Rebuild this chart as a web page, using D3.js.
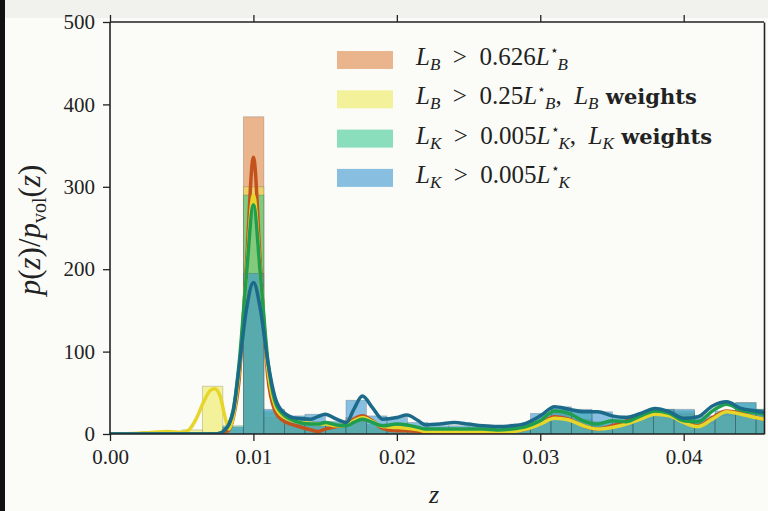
<!DOCTYPE html>
<html>
<head>
<meta charset="utf-8">
<script src="https://cdn.jsdelivr.net/npm/d3@7"></script>
<style>
  body { margin: 0; background: #fbfcf8; }
  svg text { font-family: "Liberation Serif", "DejaVu Serif", serif; fill: #222; }
</style>
</head>
<body>
<div id="chart"></div>
<script>
var width = 768, height = 511;
var margin = { left: 110, right: 4, top: 22, bottom: 77 };

// histogram bins (z edges start + width), heights per series
var binStart = 0.00072, binWidth = 0.00143, binCount = 32;
var histOrange = [0, 0, 0, 0, 0, 0, 385, 20, 15, 10, 8, 20, 8, 5, 4, 3, 3, 3, 4, 5, 15, 25, 18, 10, 12, 20, 28, 25, 15, 25, 30, 25];
var histYellow = [0, 3, 3, 5, 58, 5, 300, 25, 15, 12, 10, 18, 10, 7, 5, 4, 4, 4, 4, 6, 14, 22, 16, 9, 10, 18, 25, 23, 13, 22, 28, 22];
var histGreen  = [0, 0, 0, 0, 0, 10, 290, 28, 20, 15, 12, 15, 12, 12, 8, 6, 6, 6, 6, 8, 18, 30, 28, 15, 15, 22, 30, 28, 18, 25, 38, 30];
var histBlue   = [0, 0, 0, 0, 0, 8, 195, 30, 22, 24, 15, 41, 22, 20, 14, 10, 10, 10, 10, 12, 25, 33, 30, 27, 22, 22, 30, 30, 22, 28, 38, 30];

// smoothed density curves
var kdeZ = [0, 0.002, 0.003, 0.004, 0.005, 0.0055, 0.006, 0.0065, 0.007, 0.0073,
  0.0077, 0.008, 0.0083, 0.0086, 0.009, 0.0095, 0.010, 0.0105, 0.011, 0.0115,
  0.012, 0.013, 0.014, 0.0145, 0.015, 0.0158, 0.0165, 0.017, 0.0176, 0.0183,
  0.019, 0.020, 0.0207, 0.0215, 0.022, 0.023, 0.024, 0.025, 0.026, 0.027,
  0.028, 0.029, 0.030, 0.031, 0.032, 0.033, 0.034, 0.035, 0.036, 0.037,
  0.038, 0.039, 0.040, 0.041, 0.042, 0.043, 0.044, 0.045, 0.0465];
var kdeOrange = [0, 0, 0, 0, 0, 0, 0, 0, 0, 0,
  0.5, 2, 5, 20, 65, 200, 336, 200, 70, 28,
  17, 10, 5, 3, 6, 9, 12, 18, 22, 16,
  7, 4, 4, 3, 2, 2, 2, 2, 2, 2,
  3, 6, 13, 21, 18, 10, 6, 10, 16, 22,
  27, 24, 15, 10, 20, 28, 25, 20, 16];
var kdeYellow = [0, 1, 2, 3, 2, 5, 18, 38, 53, 55,
  45, 22, 6, 22, 75, 190, 290, 190, 80, 35,
  22, 15, 13, 12, 12, 10, 11, 16, 20, 15,
  9, 8, 7, 5, 3, 3, 3, 3, 3, 3,
  3, 6, 12, 19, 17, 10, 6, 8, 12, 18,
  24, 22, 14, 9, 18, 27, 24, 20, 15];
var kdeGreen = [0, 0, 0, 0, 0, 0, 0, 0, 0, 0,
  1, 5, 12, 30, 85, 190, 278, 190, 90, 40,
  25, 15, 12, 12, 14, 11, 10, 14, 18, 14,
  10, 12, 11, 8, 6, 6, 6, 6, 6, 5,
  6, 9, 16, 28, 25, 16, 12, 16, 15, 22,
  28, 25, 16, 15, 28, 36, 29, 26, 22];
var kdeBlue = [0, 0, 0, 0, 0, 0, 0, 0, 0, 0,
  1, 5, 12, 28, 80, 150, 184, 150, 88, 45,
  28, 19, 18, 21, 24, 18, 14, 30, 46, 32,
  18, 20, 23, 16, 11, 12, 14, 12, 10, 9,
  10, 13, 22, 33, 30, 27, 27, 22, 20, 25,
  31, 27, 19, 21, 34, 39, 31, 28, 24];

var xTicks = [0, 0.01, 0.02, 0.03, 0.04];
var yTicks = [0, 100, 200, 300, 400, 500];

var series = [
  { hist: histOrange, kde: kdeOrange, fill: "#df8445", fillOp: 0.6, line: "#c4521c" },
  { hist: histYellow, kde: kdeYellow, fill: "#ede94f", fillOp: 0.55, line: "#e6d62c" },
  { hist: histGreen,  kde: kdeGreen,  fill: "#2fc48a", fillOp: 0.55, line: "#1f9f4e" },
  { hist: histBlue,   kde: kdeBlue,   fill: "#3c95cf", fillOp: 0.6, line: "#1c6a8a" }
];

var svg = d3.select("#chart").append("svg")
    .attr("width", width)
    .attr("height", height);

// top strip and dark left edge of the screenshot
svg.append("rect").attr("x", 0).attr("y", 0).attr("width", width).attr("height", 18).attr("fill", "#f1f2ee");
svg.append("rect").attr("x", 0).attr("y", 0).attr("width", 5).attr("height", height).attr("fill", "#111");

var x = d3.scaleLinear().domain([0, 0.0456]).range([margin.left, width - margin.right]);
var y = d3.scaleLinear().domain([0, 500]).range([height - margin.bottom, margin.top]);

svg.append("clipPath").attr("id", "plotclip")
  .append("rect")
    .attr("x", x.range()[0]).attr("y", y.range()[1])
    .attr("width", x.range()[1] - x.range()[0])
    .attr("height", y.range()[0] - y.range()[1]);

var plot = svg.append("g").attr("clip-path", "url(#plotclip)");

// histogram bars
series.forEach(function (s) {
  plot.append("g").selectAll("rect")
    .data(s.hist)
    .enter().append("rect")
      .attr("x", function (d, i) { return x(binStart + i * binWidth); })
      .attr("width", function (d, i) { return x(binStart + (i + 1) * binWidth) - x(binStart + i * binWidth); })
      .attr("y", function (d) { return y(d); })
      .attr("height", function (d) { return y(0) - y(d); })
      .attr("fill", s.fill)
      .attr("fill-opacity", s.fillOp)
      .attr("stroke", "#333")
      .attr("stroke-opacity", function (d) { return d > 0 ? 0.25 : 0; })
      .attr("stroke-width", 0.8);
});

// density curves
var line = d3.line()
  .x(function (d, i) { return x(kdeZ[i]); })
  .y(function (d) { return y(d); })
  .curve(d3.curveMonotoneX);

series.forEach(function (s) {
  plot.append("path")
    .datum(s.kde)
    .attr("d", line)
    .attr("fill", "none")
    .attr("stroke", s.line)
    .attr("stroke-width", 3.5)
    .attr("stroke-linejoin", "round");
});

// axes
var axisFont = 21;
var gx = svg.append("g").attr("transform", "translate(0," + y(0) + ")")
  .call(d3.axisBottom(x).tickValues(xTicks).tickFormat(d3.format(".2f")).tickSize(7).tickPadding(8));
var gxTop = svg.append("g").attr("transform", "translate(0," + y(500) + ")")
  .call(d3.axisTop(x).tickValues(xTicks).tickFormat("").tickSize(7));
var gy = svg.append("g").attr("transform", "translate(" + x(0) + ",0)")
  .call(d3.axisLeft(y).tickValues(yTicks).tickSize(7).tickPadding(8));
var gyRight = svg.append("g").attr("transform", "translate(" + x.range()[1] + ",0)")
  .call(d3.axisRight(y).tickValues(yTicks).tickFormat("").tickSize(0));

[gx, gxTop, gy, gyRight].forEach(function (g) {
  g.selectAll(".domain").attr("stroke", "#222").attr("stroke-width", 1.6);
  g.selectAll(".tick line").attr("stroke", "#222").attr("stroke-width", 1.3);
  g.selectAll("text").style("font-size", axisFont + "px").attr("fill", "#333");
});
gy.selectAll(".domain").attr("d", "M0," + y(0) + "V" + y(500));
gx.selectAll(".domain").attr("d", "M" + x.range()[0] + ",0H" + x.range()[1]);
gxTop.selectAll(".domain").attr("d", "M" + x.range()[0] + ",0H" + x.range()[1]);

// axis labels
svg.append("text")
  .attr("x", x(0.0226)).attr("y", 503)
  .attr("text-anchor", "middle")
  .style("font-size", "26px").style("font-style", "italic")
  .text("z");

var ylab = svg.append("text")
  .attr("transform", "translate(40,230) rotate(-90)")
  .attr("text-anchor", "middle")
  .style("font-size", "31px");
ylab.append("tspan").style("font-style", "italic").text("p");
ylab.append("tspan").text("(");
ylab.append("tspan").style("font-style", "italic").text("z");
ylab.append("tspan").text(")/");
ylab.append("tspan").style("font-style", "italic").text("p");
ylab.append("tspan").attr("dy", 6).style("font-size", "20px").text("vol");
ylab.append("tspan").attr("dy", -6).text("(");
ylab.append("tspan").style("font-style", "italic").text("z");
ylab.append("tspan").text(")");

// legend
var legendItems = [
  { parts: [["L", "i"], ["B", "sub"], ["  >  0.626", "r"], ["L", "i"], ["⋆", "sup"], ["B", "subafter"]] },
  { parts: [["L", "i"], ["B", "sub"], ["  >  0.25", "r"], ["L", "i"], ["⋆", "sup"], ["B", "subafter"], [",  ", "r"], ["L", "i"], ["B", "sub"], [" weights", "b"]] },
  { parts: [["L", "i"], ["K", "sub"], ["  >  0.005", "r"], ["L", "i"], ["⋆", "sup"], ["K", "subafter"], [",  ", "r"], ["L", "i"], ["K", "sub"], [" weights", "b"]] },
  { parts: [["L", "i"], ["K", "sub"], ["  >  0.005", "r"], ["L", "i"], ["⋆", "sup"], ["K", "subafter"]] }
];

var legend = svg.append("g");
legendItems.forEach(function (item, i) {
  var s = series[i];
  var top = 51 + i * 39.3;
  legend.append("rect")
    .attr("x", 337).attr("y", top)
    .attr("width", 56).attr("height", 18)
    .attr("fill", s.fill).attr("fill-opacity", s.fillOp);
  var t = legend.append("text")
    .attr("x", 416).attr("y", top + 14)
    .attr("xml:space", "preserve")
    .style("white-space", "pre")
    .style("font-size", "25px");
  var shift = 0;
  item.parts.forEach(function (p) {
    var ts = t.append("tspan").text(p[0]);
    var want = 0;
    if (p[1] === "i") ts.style("font-style", "italic");
    if (p[1] === "b") ts.style("font-weight", "bold").style("font-family", "'DejaVu Serif', serif").style("font-size", "21px");
    if (p[1] === "sub") { ts.style("font-style", "italic").style("font-size", "17px"); want = 5; }
    if (p[1] === "sup") { ts.style("font-size", "14px"); want = -10; }
    if (p[1] === "subafter") { ts.style("font-style", "italic").style("font-size", "17px").attr("dx", -1); want = 5; }
    if (want - shift !== 0) ts.attr("dy", want - shift);
    shift = want;
  });
});
</script>
</body>
</html>
